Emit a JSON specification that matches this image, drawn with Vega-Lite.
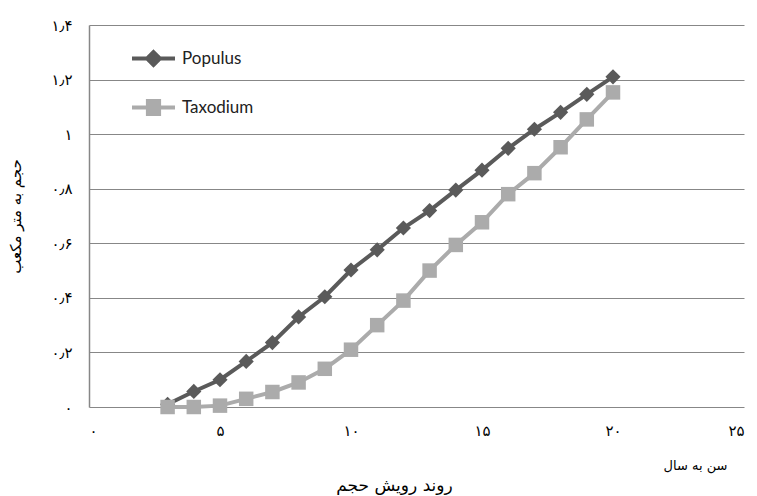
{
  "$schema": "https://vega.github.io/schema/vega-lite/v6.json",
  "autosize": "none",
  "width": 655,
  "height": 382,
  "padding": {"left": 89, "top": 25, "right": 13, "bottom": 89},
  "background": "white",
  "title": {"text": "روند رویش حجم", "orient": "bottom", "anchor": "middle", "font": "DejaVu Sans", "fontSize": 17, "fontWeight": "normal", "color": "black", "offset": 6, "dx": -22},
  "config": {"view": {"stroke": null}},
  "data": {"values": [
    {"age": 3, "volume": 0.01, "species": "Populus"},
    {"age": 4, "volume": 0.057, "species": "Populus"},
    {"age": 5, "volume": 0.10, "species": "Populus"},
    {"age": 6, "volume": 0.167, "species": "Populus"},
    {"age": 7, "volume": 0.236, "species": "Populus"},
    {"age": 8, "volume": 0.33, "species": "Populus"},
    {"age": 9, "volume": 0.404, "species": "Populus"},
    {"age": 10, "volume": 0.502, "species": "Populus"},
    {"age": 11, "volume": 0.576, "species": "Populus"},
    {"age": 12, "volume": 0.656, "species": "Populus"},
    {"age": 13, "volume": 0.72, "species": "Populus"},
    {"age": 14, "volume": 0.795, "species": "Populus"},
    {"age": 15, "volume": 0.868, "species": "Populus"},
    {"age": 16, "volume": 0.948, "species": "Populus"},
    {"age": 17, "volume": 1.018, "species": "Populus"},
    {"age": 18, "volume": 1.08, "species": "Populus"},
    {"age": 19, "volume": 1.146, "species": "Populus"},
    {"age": 20, "volume": 1.21, "species": "Populus"},
    {"age": 3, "volume": 0.0, "species": "Taxodium"},
    {"age": 4, "volume": 0.0, "species": "Taxodium"},
    {"age": 5, "volume": 0.005, "species": "Taxodium"},
    {"age": 6, "volume": 0.03, "species": "Taxodium"},
    {"age": 7, "volume": 0.055, "species": "Taxodium"},
    {"age": 8, "volume": 0.09, "species": "Taxodium"},
    {"age": 9, "volume": 0.14, "species": "Taxodium"},
    {"age": 10, "volume": 0.21, "species": "Taxodium"},
    {"age": 11, "volume": 0.30, "species": "Taxodium"},
    {"age": 12, "volume": 0.39, "species": "Taxodium"},
    {"age": 13, "volume": 0.50, "species": "Taxodium"},
    {"age": 14, "volume": 0.594, "species": "Taxodium"},
    {"age": 15, "volume": 0.677, "species": "Taxodium"},
    {"age": 16, "volume": 0.78, "species": "Taxodium"},
    {"age": 17, "volume": 0.857, "species": "Taxodium"},
    {"age": 18, "volume": 0.952, "species": "Taxodium"},
    {"age": 19, "volume": 1.054, "species": "Taxodium"},
    {"age": 20, "volume": 1.153, "species": "Taxodium"}
  ]},
  "encoding": {
    "x": {"field": "age", "type": "quantitative",
      "scale": {"domain": [0, 25], "nice": false},
      "axis": {"values": [0, 5, 10, 15, 20, 25], "grid": false, "ticks": false, "domain": false,
        "labelPadding": 16, "labelFont": "DejaVu Sans", "labelFontSize": 15, "labelColor": "black",
        "labelExpr": "replace(replace(replace(replace(replace(format(datum.value,'~g'),'0','۰'),'1','۱'),'2','۲'),'5','۵'),'0','۰')",
        "title": "سن به سال", "titleFont": "DejaVu Sans", "titleFontSize": 13, "titleFontWeight": "normal", "titleColor": "black",
        "titleX": 606, "titleY": 58, "titleAlign": "center", "titleBaseline": "middle"}},
    "y": {"field": "volume", "type": "quantitative",
      "scale": {"domain": [0, 1.4], "nice": false},
      "axis": {"values": [0, 0.2, 0.4, 0.6, 0.8, 1, 1.2, 1.4], "grid": true, "gridColor": "#878787", "gridWidth": 1,
        "domain": true, "domainColor": "#878787", "domainWidth": 1.5, "ticks": false,
        "labelPadding": 17, "labelFont": "DejaVu Sans", "labelFontSize": 15, "labelColor": "black",
        "labelExpr": "replace(replace(replace(replace(replace(replace(replace(format(datum.value,'~g'),'.','٫'),'0','۰'),'1','۱'),'2','۲'),'4','۴'),'6','۶'),'8','۸')",
        "title": "حجم به متر مکعب", "titleFont": "DejaVu Sans", "titleFontSize": 15, "titleFontWeight": "normal", "titleColor": "black",
        "titleX": -74, "titleY": 191, "titleAngle": 270, "titleAlign": "center", "titleBaseline": "middle"}}
  },
  "layer": [
    {
      "mark": {"type": "line", "strokeWidth": 4},
      "encoding": {
        "color": {"field": "species", "type": "nominal",
          "scale": {"domain": ["Populus", "Taxodium"], "range": ["#5a5a5a", "#ababab"]},
          "legend": {"orient": "none", "legendX": 41, "legendY": 10, "title": null, "padding": 0,
            "symbolSize": 1849, "rowPadding": 11, "labelOffset": 5,
            "labelFont": "Lato", "labelFontSize": 17, "labelColor": "#222222",
            "encode": {"symbols": {"update": {
              "shape": {"signal": "datum.value === 'Populus' ? 'M-1,0H1M0,-0.3L0.3,0L0,0.3L-0.3,0Z' : 'M-1,0H1M-0.26,-0.3H0.26V0.3H-0.26Z'"},
              "fill": {"signal": "datum.value === 'Populus' ? '#5a5a5a' : '#ababab'"},
              "stroke": {"signal": "datum.value === 'Populus' ? '#5a5a5a' : '#ababab'"},
              "strokeWidth": {"value": 4},
              "opacity": {"value": 1}
            }}}}}
      }
    },
    {
      "transform": [{"filter": "datum.species === 'Populus'"}],
      "mark": {"type": "point", "filled": true, "opacity": 1, "size": 230, "shape": "diamond"},
      "encoding": {
        "color": {"field": "species", "type": "nominal"}
      }
    },
    {
      "transform": [{"filter": "datum.species === 'Taxodium'"}],
      "mark": {"type": "point", "filled": true, "opacity": 1, "size": 210, "shape": "square"},
      "encoding": {
        "color": {"field": "species", "type": "nominal"}
      }
    }
  ]
}
